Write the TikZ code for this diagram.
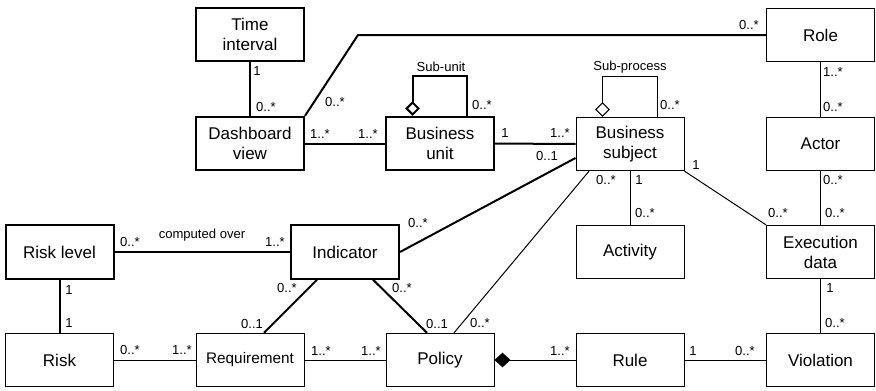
\documentclass[tikz,border=0pt]{standalone}
\usepackage{fontspec}
\setmainfont{Liberation Sans}
\usetikzlibrary{arrows.meta}

\begin{document}
\begin{tikzpicture}[x=0.75pt,y=-0.75pt,
  cls/.style={draw,line width=1.5pt,minimum width=81pt,minimum height=40pt,inner sep=0pt,align=center,font=\fontsize{12.75}{15}\selectfont},
  thincls/.style={cls,line width=0.75pt},
  thk/.style={line width=1.5pt},
  thn/.style={line width=0.75pt},
  mult/.style={inner sep=0pt,font=\fontsize{9.8}{11}\selectfont}]
\useasboundingbox (0,0) rectangle (876,390);
% classes
\node[cls] (ti) at (250,34.5) {Time\\interval};
\node[cls] (dv) at (250,143.5) {Dashboard\\view};
\node[cls] (bu) at (440,143.5) {Business\\unit};
\node[thincls] (bs) at (630,144) {Business\\subject};
\node[thincls] (role) at (820.5,35) {Role};
\node[thincls] (actor) at (820.5,144) {Actor};
\node[cls] (rl) at (59.5,252) {Risk level};
\node[cls] (ind) at (345,252) {Indicator};
\node[thincls] (act) at (630,252) {Activity};
\node[thincls] (exec) at (820.5,252) {Execution\\data};
\node[thincls] (risk) at (59.5,360) {Risk};
\node[thincls,font=\fontsize{11.5}{14}\selectfont] (req) at (250,360) {Requirement};
\node[thincls] (pol) at (440,360) {Policy};
\node[thincls] (rule) at (630,360) {Rule};
\node[thincls] (viol) at (820.5,360) {Violation};
% associations
\coordinate (bend) at (358,35);
\draw[thk] (ti) -- (dv);
\draw[thk] (dv) -- (bu);
\draw[thk] (dv.north east) -- (bend) -- (role.west);
\draw[thk,{Diamond[open,width=11pt,length=11pt]}-] ([xshift=-20.6pt]bu.north) -- ++(0,-40) -| ([xshift=20.6pt]bu.north);
\draw[thk] (bu) -- (bs);
\draw[thn,{Diamond[open,width=11pt,length=11pt]}-] ([xshift=-20.6pt]bs.north) -- ++(0,-40) -| ([xshift=20.6pt]bs.north);
\draw[thn] (role) -- (actor);
\draw[thn] (actor) -- (exec);
\draw[thn] (bs) -- (act);
\draw[thn] (bs.south east) -- (exec.north west);
\draw[thn] ([xshift=-30.75pt]bs.south) -- ([xshift=10.5pt]pol.north);
\draw[thk] (ind.east) -- ([yshift=-10.5pt]bs.west);
\draw[thk] (rl) -- (ind);
\draw[thk] (rl) -- (risk);
\draw[thn] (risk) -- (req);
\draw[thn] (req) -- (pol);
\draw[thk] ([xshift=-21pt]ind.south) -- ([xshift=10.5pt]req.north);
\draw[thk] ([xshift=21pt]ind.south) -- ([xshift=-9.75pt]pol.north);
\draw[thn,{Diamond[width=11pt,length=12pt]}-] (pol) -- (rule);
\draw[thn] (rule) -- (viol);
\draw[thn] (exec) -- (viol);
% multiplicities
\node[mult] (m1) at (257,71) {1};
\node[mult] (m2) at (266,107) {0..*};
\node[mult] (m3) at (320,134) {1..*};
\node[mult] (m4) at (368,134) {1..*};
\node[mult] (m5) at (335,102) {0..*};
\node[mult] (m6) at (749,25) {0..*};
\node[mult] (su) at (441,67) {Sub-unit};
\node[mult] (m7) at (482,105) {0..*};
\node[mult] (m8) at (505,133) {1};
\node[mult] (m9) at (560,133) {1..*};
\node[mult] (sp) at (630,67) {Sub-process};
\node[mult] (m10) at (670,105) {0..*};
\node[mult] (m11) at (833,72) {1..*};
\node[mult] (m12) at (833,107) {0..*};
\node[mult] (m13) at (833,180) {0..*};
\node[mult] (m14) at (835,213) {0..*};
\node[mult] (m15) at (639,180) {1};
\node[mult] (m16) at (645,213) {0..*};
\node[mult] (m17) at (696,165) {1};
\node[mult] (m18) at (778,213) {0..*};
\node[mult] (m19) at (606,180) {0..*};
\node[mult] (m20) at (480,323) {0..*};
\node[mult] (m21) at (418,223) {0..*};
\node[mult] (m22) at (547,156) {0..1};
\node[mult] (m23) at (130,242) {0..*};
\node[mult] (co) at (202,235) {computed over};
\node[mult] (m24) at (275,242) {1..*};
\node[mult] (m25) at (69,290) {1};
\node[mult] (m26) at (69,323) {1};
\node[mult] (m27) at (130,350) {0..*};
\node[mult] (m28) at (182,350) {1..*};
\node[mult] (m29) at (321,351) {1..*};
\node[mult] (m30) at (371,351) {1..*};
\node[mult] (m31) at (287,288) {0..*};
\node[mult] (m32) at (252,324) {0..1};
\node[mult] (m33) at (402,288) {0..*};
\node[mult] (m34) at (437,324) {0..1};
\node[mult] (m35) at (560,351) {1..*};
\node[mult] (m36) at (693,351) {1};
\node[mult] (m37) at (745,351) {0..*};
\node[mult] (m38) at (830,288) {1};
\node[mult] (m39) at (835,323) {0..*};
\end{tikzpicture}
\end{document}
